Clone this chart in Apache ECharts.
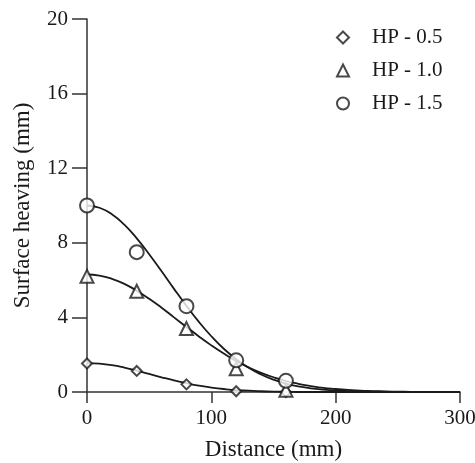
<!DOCTYPE html>
<html>
<head>
<meta charset="utf-8">
<script src="https://cdn.jsdelivr.net/npm/echarts@6/dist/echarts.min.js"></script>
<style>
  html, body { margin: 0; padding: 0; background: #fff; }
  #chart { width: 475px; height: 463px; }
</style>
</head>
<body>
<div id="chart"></div>
<script>
// Measured points: distance (mm) and surface heaving (mm)
const distances = [0, 40, 80, 120, 160];
const hp05 = [1.53, 1.13, 0.41, 0.04, 0.0];
const hp10 = [6.2, 5.4, 3.4, 1.25, 0.1];
const hp15 = [10.0, 7.5, 4.6, 1.7, 0.6];

// Fitted trend curves, sampled every 10 mm from 0 to 300 mm
const curveX = [0, 10, 20, 30, 40, 50, 60, 70, 80, 90, 100, 110, 120, 130, 140, 150,
  160, 170, 180, 190, 200, 210, 220, 230, 240, 250, 260, 270, 280, 290, 300];
const fit05 = [1.55, 1.52, 1.44, 1.31, 1.15, 0.97, 0.79, 0.62, 0.47, 0.34, 0.24, 0.16,
  0.10, 0.07, 0.04, 0.02, 0.01, 0, 0, 0, 0, 0, 0, 0, 0, 0, 0, 0, 0, 0, 0];
const fit10 = [6.3, 6.24, 6.07, 5.80, 5.43, 5.00, 4.52, 4.00, 3.49, 2.98, 2.50, 2.06,
  1.66, 1.32, 1.03, 0.79, 0.59, 0.44, 0.32, 0.22, 0.16, 0.11, 0.07, 0.05, 0.03, 0.02,
  0.01, 0, 0, 0, 0];
const fit15 = [10.0, 9.88, 9.53, 8.97, 8.24, 7.39, 6.47, 5.53, 4.62, 3.76, 2.99, 2.32,
  1.76, 1.30, 0.94, 0.66, 0.45, 0.30, 0.20, 0.13, 0.08, 0.05, 0.03, 0.02, 0.01, 0,
  0, 0, 0, 0, 0];

const xTicks = [0, 100, 200, 300];
const yTicks = [0, 4, 8, 12, 16, 20];

const FONT = '"Liberation Serif", "DejaVu Serif", serif';
const INK = '#1a1a1a';

const pairs = (xs, ys) => xs.map((x, i) => [x, ys[i]]);

function markers(name, symbol, size, ys) {
  return {
    name: name,
    type: 'scatter',
    symbol: symbol,
    symbolSize: size,
    data: pairs(distances, ys),
    itemStyle: { color: INK, borderColor: INK, borderWidth: 2 },
    z: 5
  };
}

function curve(ys) {
  return {
    type: 'line',
    data: pairs(curveX, ys),
    smooth: true,
    showSymbol: false,
    silent: true,
    lineStyle: { color: INK, width: 1.8 },
    z: 3
  };
}

const chart = echarts.init(document.getElementById('chart'), null, { renderer: 'canvas' });
chart.setOption({
  animation: false,
  backgroundColor: '#fff',
  textStyle: { fontFamily: FONT, color: INK },
  grid: { left: 87, right: 15, top: 19, bottom: 71, containLabel: false, outerBoundsMode: 'none' },
  legend: {
    orient: 'vertical',
    left: 331,
    top: 22,
    itemWidth: 12,
    itemHeight: 12,
    itemGap: 12,
    data: ['HP - 0.5', 'HP - 1.0', 'HP - 1.5'],
    textStyle: { fontFamily: FONT, fontSize: 21, color: INK, padding: [0, 0, 0, 18] },
    itemStyle: { borderWidth: 2 }
  },
  xAxis: {
    type: 'value',
    min: xTicks[0],
    max: xTicks[xTicks.length - 1],
    interval: 100,
    name: 'Distance (mm)',
    nameLocation: 'middle',
    nameGap: 46,
    nameTextStyle: { fontFamily: FONT, fontSize: 23, color: INK },
    axisLine: { show: true, onZero: true, lineStyle: { color: '#333', width: 1.5 } },
    axisTick: { show: true, inside: false, length: 11, lineStyle: { color: '#333', width: 1.5 } },
    axisLabel: { fontFamily: FONT, fontSize: 21, color: INK, margin: 16 },
    splitLine: { show: false }
  },
  yAxis: {
    type: 'value',
    min: yTicks[0],
    max: yTicks[yTicks.length - 1],
    interval: 4,
    name: 'Surface heaving (mm)',
    nameLocation: 'middle',
    nameGap: 53,
    nameTextStyle: { fontFamily: FONT, fontSize: 23, color: INK },
    axisLine: { show: true, lineStyle: { color: '#333', width: 1.5 } },
    axisTick: { show: true, inside: false, length: 15, lineStyle: { color: '#333', width: 1.5 } },
    axisLabel: { fontFamily: FONT, fontSize: 21, color: INK, margin: 19 },
    splitLine: { show: false }
  },
  series: [
    curve(fit05),
    curve(fit10),
    curve(fit15),
    markers('HP - 0.5', 'emptyDiamond', 10, hp05),
    markers('HP - 1.0', 'emptyTriangle', 13, hp10),
    markers('HP - 1.5', 'emptyCircle', 14, hp15)
  ]
});
</script>
</body>
</html>
